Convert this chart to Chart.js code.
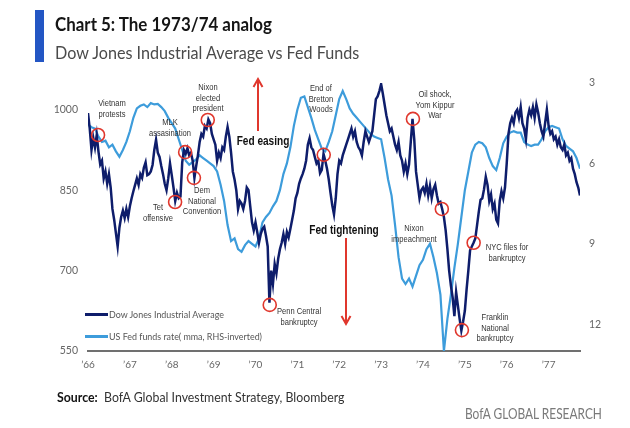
<!DOCTYPE html>
<html>
<head>
<meta charset="utf-8">
<script src="https://cdn.jsdelivr.net/npm/chart.js@4.4.1/dist/chart.umd.min.js"></script>
<style>
  body { margin: 0; background: #fff; width: 630px; height: 428px; overflow: hidden; position: relative; font-family: Lato, "Liberation Sans", sans-serif; }
  #chart { position: absolute; left: 0; top: 0; }
  .bar { position: absolute; left: 35px; top: 10px; width: 9px; height: 52px; background: #2356c4; }
  .title { position: absolute; left: 55px; top: 13px; font-size: 18px; font-weight: bold; color: #151515; white-space: nowrap; transform: scaleX(0.94); transform-origin: left center; }
  .subtitle { position: absolute; left: 55px; top: 42px; font-size: 17px; color: #4a4a4a; white-space: nowrap; transform: scaleX(0.95); transform-origin: left center; }
  .source { position: absolute; left: 57px; top: 388px; font-size: 14px; color: #333; white-space: nowrap; transform: scaleX(0.88); transform-origin: left center; }
  .source b { color: #111; }
  .brand { position: absolute; left: 465px; top: 405px; font-size: 14.5px; color: #7a7a7a; white-space: nowrap; transform: scaleX(0.82); transform-origin: left center; }
  .leg-line { position: absolute; left: 85px; width: 23px; height: 3px; }
  .leg-text { position: absolute; left: 109px; font-size: 10px; color: #555; white-space: nowrap; line-height: 12px; transform: scaleX(0.89); transform-origin: left center; }
  .note { position: absolute; font-family: "Liberation Sans", Arial, sans-serif; font-size: 9px; line-height: 10.5px; color: #333; text-align: center; white-space: nowrap; transform: translateX(-50%) scaleX(0.84); }
  .note.big { font-size: 12px; font-weight: bold; color: #111; line-height: 14px; }
</style>
</head>
<body>
<canvas id="chart" width="630" height="428"></canvas>

<div class="bar"></div>
<div class="title">Chart 5: The 1973/74 analog</div>
<div class="subtitle">Dow Jones Industrial Average vs Fed Funds</div>

<div class="leg-line" style="top:313px;background:#0e1d6b"></div>
<div class="leg-text" style="top:308px">Dow Jones Industrial Average</div>
<div class="leg-line" style="top:335px;background:#3d9cdb"></div>
<div class="leg-text" style="top:330px">US Fed funds rate( mma, RHS-inverted)</div>

<div class="note" style="left:112px;top:98px">Vietnam<br>protests</div>
<div class="note" style="left:170px;top:117px">MLK<br>assasination</div>
<div class="note" style="left:208px;top:82px">Nixon<br>elected<br>president</div>
<div class="note" style="left:158px;top:202px">Tet<br>offensive</div>
<div class="note" style="left:202px;top:185px">Dem<br>National<br>Convention</div>
<div class="note big" style="left:263px;top:134px">Fed easing</div>
<div class="note" style="left:321px;top:83px">End of<br>Bretton<br>Woods</div>
<div class="note big" style="left:344px;top:223px">Fed tightening</div>
<div class="note" style="left:299px;top:306px">Penn Central<br>bankruptcy</div>
<div class="note" style="left:435px;top:89px">Oil shock,<br>Yom Kippur<br>War</div>
<div class="note" style="left:414px;top:223px">Nixon<br>impeachment</div>
<div class="note" style="left:507px;top:242px">NYC files for<br>bankruptcy</div>
<div class="note" style="left:495px;top:312px">Franklin<br>National<br>bankruptcy</div>

<div class="source"><b>Source:</b>&nbsp; BofA Global Investment Strategy, Bloomberg</div>
<div class="brand">BofA GLOBAL RESEARCH</div>

<script>
// Dow Jones Industrial Average, two readings per month from Jan 1966
const dowStart = 1966;
const dowPerYear = 24;
const dowValues = [
  // 1966
  994, 965, 925, 948, 930, 953, 922, 898, 905, 872, 885, 862, 880, 855, 815, 795, 770, 745, 780, 800, 812, 798, 815, 800,
  // 1967
  820, 835, 848, 860, 872, 860, 880, 873, 892, 902, 878, 880, 885, 897, 925, 944, 920, 912, 895, 880, 862, 850, 872, 900,
  // 1968
  878, 855, 830, 845, 835, 838, 902, 925, 918, 928, 915, 920, 905, 873, 895, 915, 940, 955, 950, 970, 965, 982, 975, 955,
  // 1969
  945, 935, 905, 920, 910, 930, 925, 950, 968, 950, 920, 885, 870, 850, 815, 830, 825, 815, 830, 855, 850, 820, 790, 775,
  // 1970
  790, 772, 752, 768, 778, 782, 765, 745, 640, 700, 675, 712, 695, 722, 740, 752, 768, 750, 772, 762, 778, 795, 812, 835,
  // 1971
  845, 862, 872, 880, 890, 905, 935, 947, 930, 925, 912, 900, 905, 882, 888, 918, 905, 890, 870, 845, 822, 805, 835, 880,
  // 1972
  905, 900, 915, 925, 935, 945, 955, 965, 950, 960, 940, 930, 925, 915, 940, 960, 950, 940, 950, 960, 990, 1020, 1025, 1035,
  // 1973
  1048, 1030, 1010, 990, 975, 960, 965, 950, 935, 925, 940, 915, 905, 885, 900, 880, 898, 940, 983, 945, 885, 860, 835, 850,
  // 1974
  855, 845, 862, 840, 858, 835, 852, 860, 840, 825, 828, 815, 800, 775, 740, 700, 672, 650, 615, 660, 635, 610, 588, 605,
  // 1975
  625, 665, 700, 738, 745, 752, 760, 785, 810, 832, 835, 852, 875, 860, 830, 842, 815, 825, 795, 788, 830, 848, 835, 855,
  // 1976
  900, 955, 975, 985, 975, 995, 1000, 985, 1005, 975, 965, 945, 985, 1000, 990, 1005, 985, 1010, 995, 975, 960, 950, 975, 1000,
  // 1977
  970, 955, 960, 945, 950, 935, 945, 930, 925, 935, 915, 920, 905, 910, 890, 880, 865, 855, 840
];

// US Fed funds rate, monthly from Jan 1966 (plotted inverted on the right axis)
const fedStart = 1966;
const fedPerYear = 12;
const fedValues = [
  4.55, 4.65, 4.7, 5.0, 5.2, 5.15, 5.4, 5.3, 5.55, 5.75, 5.5, 5.2,
  4.8, 4.3, 3.95, 3.85, 3.8, 3.9, 3.75, 3.8, 3.78, 3.9, 4.05, 4.3,
  4.5, 4.7, 5.1, 5.5, 5.9, 6.05, 5.95, 5.85, 5.7, 5.8, 5.9, 6.0,
  6.1, 6.3, 6.8, 7.4, 8.3, 8.9, 8.8, 9.2, 9.3, 9.05, 8.9, 9.0,
  9.1, 8.8, 8.2, 8.0, 7.85, 7.6, 7.4, 7.0, 6.4, 6.0, 5.4, 4.6,
  4.0, 3.55, 3.5, 3.9, 4.3, 4.75, 5.1, 5.45, 5.55, 5.2, 4.8, 4.2,
  3.6, 3.3, 3.6, 3.95, 4.15, 4.3, 4.45, 4.6, 4.75, 4.9, 5.0, 5.05,
  5.1, 5.8, 6.6, 7.2, 8.3, 9.5, 10.3, 10.5, 10.3, 10.6, 10.2, 9.8,
  9.6, 9.2, 9.0, 9.5, 10.1, 10.9, 13.0, 11.8, 10.9, 9.9, 9.0, 8.0,
  7.0, 6.3, 5.6, 5.3, 5.2, 5.25, 5.4, 5.8, 6.1, 6.25, 5.8, 5.25,
  5.0, 4.85, 4.8, 4.85, 4.85, 5.2, 5.3, 5.35, 5.3, 5.3, 5.1, 4.8,
  4.65, 4.6, 4.65, 4.7, 5.1, 5.35, 5.45, 5.55, 5.8, 6.2
];

const yearTicks = [1966, 1967, 1968, 1969, 1970, 1971, 1972, 1973, 1974, 1975, 1976, 1977];
const dowTicks = [550, 700, 850, 1000];
const fedTicks = [3, 6, 9, 12];

// circled events on the Dow line: year, index level
const eventYears = [1966.24, 1968.08, 1968.32, 1968.53, 1968.86, 1970.34, 1971.63, 1973.76, 1974.45, 1974.93, 1975.21];
const eventDow   = [953, 828, 921, 873, 981, 636, 916, 983, 815, 589, 752];

const toPoints = (vals, start, perYear) => vals.map((v, i) => ({ x: start + i / perYear, y: v }));

// red circles on events and the two easing / tightening arrows
const marks = {
  id: 'marks',
  afterDatasetsDraw(chart) {
    const { ctx, scales } = chart;
    ctx.save();
    ctx.strokeStyle = '#e0372d';
    ctx.lineWidth = 1.6;
    eventYears.forEach((yr, i) => {
      ctx.beginPath();
      ctx.arc(scales.x.getPixelForValue(yr), scales.y.getPixelForValue(eventDow[i]), 6.5, 0, Math.PI * 2);
      ctx.stroke();
    });

    const arrow = (x, y0, y1) => {
      const dir = y1 < y0 ? 1 : -1;
      ctx.lineWidth = 2;
      ctx.beginPath();
      ctx.moveTo(x, y0);
      ctx.lineTo(x, y1);
      ctx.moveTo(x - 4.5, y1 + dir * 8);
      ctx.lineTo(x, y1);
      ctx.lineTo(x + 4.5, y1 + dir * 8);
      ctx.stroke();
    };
    arrow(258, 131, 79);
    arrow(346, 238, 324);
    ctx.restore();
  }
};

new Chart(document.getElementById('chart'), {
  type: 'line',
  data: {
    datasets: [
      {
        label: 'Dow Jones Industrial Average',
        data: toPoints(dowValues, dowStart, dowPerYear),
        yAxisID: 'y',
        borderColor: '#0e1d6b',
        borderWidth: 2.5,
        pointRadius: 0,
        tension: 0
      },
      {
        label: 'US Fed funds rate( mma, RHS-inverted)',
        data: toPoints(fedValues, fedStart, fedPerYear),
        yAxisID: 'y2',
        borderColor: '#3d9cdb',
        borderWidth: 2.2,
        pointRadius: 0,
        tension: 0
      }
    ]
  },
  options: {
    responsive: false,
    animation: false,
    layout: { padding: { top: 83, left: 0, right: 0, bottom: 0 } },
    plugins: { legend: { display: false }, tooltip: { enabled: false } },
    scales: {
      x: {
        type: 'linear',
        min: 1966,
        max: 1977.75,
        afterBuildTicks: s => { s.ticks = yearTicks.map(v => ({ value: v })); },
        afterFit: s => { s.height = 77; },
        grid: { display: false, drawTicks: false },
        border: { display: true, color: '#707070', width: 2 },
        ticks: {
          autoSkip: false,
          maxRotation: 0,
          padding: 8,
          color: '#666',
          font: { family: 'Lato', size: 10 },
          callback: v => '\u2019' + String(v).slice(2)
        }
      },
      y: {
        position: 'left',
        min: 550,
        max: 1050,
        afterBuildTicks: s => { s.ticks = dowTicks.map(v => ({ value: v })); },
        afterFit: s => { s.width = 88; },
        grid: { display: false, drawTicks: false },
        border: { display: false },
        ticks: { padding: 10, color: '#666', font: { family: 'Lato', size: 10.5 }, callback: v => String(v) }
      },
      y2: {
        position: 'right',
        reverse: true,
        min: 3,
        max: 13,
        afterBuildTicks: s => { s.ticks = fedTicks.map(v => ({ value: v })); },
        afterFit: s => { s.width = 50; },
        grid: { display: false, drawTicks: false },
        border: { display: false },
        ticks: { padding: 9, color: '#666', font: { family: 'Lato', size: 10.5 }, callback: v => String(v) }
      }
    }
  },
  plugins: [marks]
});
</script>
</body>
</html>
